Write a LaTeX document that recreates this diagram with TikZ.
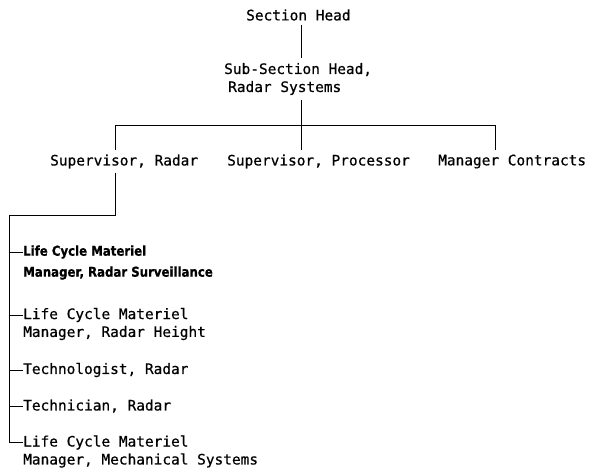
\documentclass[tikz,border=0pt]{standalone}
\usepackage{fontspec}
\usepackage{tikz}
\usetikzlibrary{positioning}
\newfontfamily\orgmono{DejaVu Sans Mono}[FakeBold=0.6]
\newfontfamily\orgbold{DejaVu Sans}[FakeStretch=0.87, BoldFeatures={FakeBold=0.8}]

\begin{document}
\begin{tikzpicture}[
    x=1pt, y=-1pt,
    every node/.style={anchor=west, inner xsep=0pt, inner ysep=4pt, align=left, font=\orgmono\fontsize{14.45}{18}\selectfont},
    boldrole/.style={font=\orgbold\bfseries\fontsize{13.5}{21}\selectfont},
    link/.style={draw, line width=1pt}
]
    \useasboundingbox (0,0) rectangle (592,475);

    % Top of the chart
    \node (sec) at (246,15) {Section Head};
    \node[inner ysep=4.5pt] (sub) at (224,79) {Sub-Section Head,\\\hspace*{4pt}Radar Systems};

    % Second level
    \node (supr) at (50,161.5) {Supervisor, Radar};
    \node (supp) at (227,161.5) {Supervisor, Processor};
    \node (mgr) at (438,161.5) {Manager Contracts};

    % Bus corners
    \coordinate (trunk) at (301,125);
    \coordinate (busL) at (115.7,125);
    \coordinate (busR) at (495.7,125);
    \coordinate (drop) at (115.7,215);
    \coordinate (rail) at (9.5,215);

    % Staff under Supervisor, Radar
    \node[boldrole] (lcmr) at (23,252) {Life Cycle Materiel};
    \node[boldrole] (lcmrb) at (23,273) {Manager, Radar Surveillance};
    \node (lcmh) at (23,315) {Life Cycle Materiel};
    \node (lcmhb) at (23,333) {Manager, Radar Height};
    \node (tech) at (23,370) {Technologist, Radar};
    \node (techn) at (23,406) {Technician, Radar};
    \node (lcmm) at (23,442.5) {Life Cycle Materiel};
    \node (lcmmb) at (23,460.5) {Manager, Mechanical Systems};

    % Connectors
    \draw[link] (sec.south -| trunk) -- (sub.north -| trunk);
    \draw[link] (sub.south -| trunk) -- (supp.north -| trunk);
    \draw[link] (busL |- supr.north) -- (busL) -- (busR) -- (busR |- mgr.north);
    \draw[link] (supr.south -| drop) -- (drop) -- (rail) |- (lcmm.west);
    \draw[link] (rail |- lcmr.west) -- (lcmr.west);
    \draw[link] (rail |- lcmh.west) -- (lcmh.west);
    \draw[link] (rail |- tech.west) -- (tech.west);
    \draw[link] (rail |- techn.west) -- (techn.west);

\end{tikzpicture}
\end{document}
